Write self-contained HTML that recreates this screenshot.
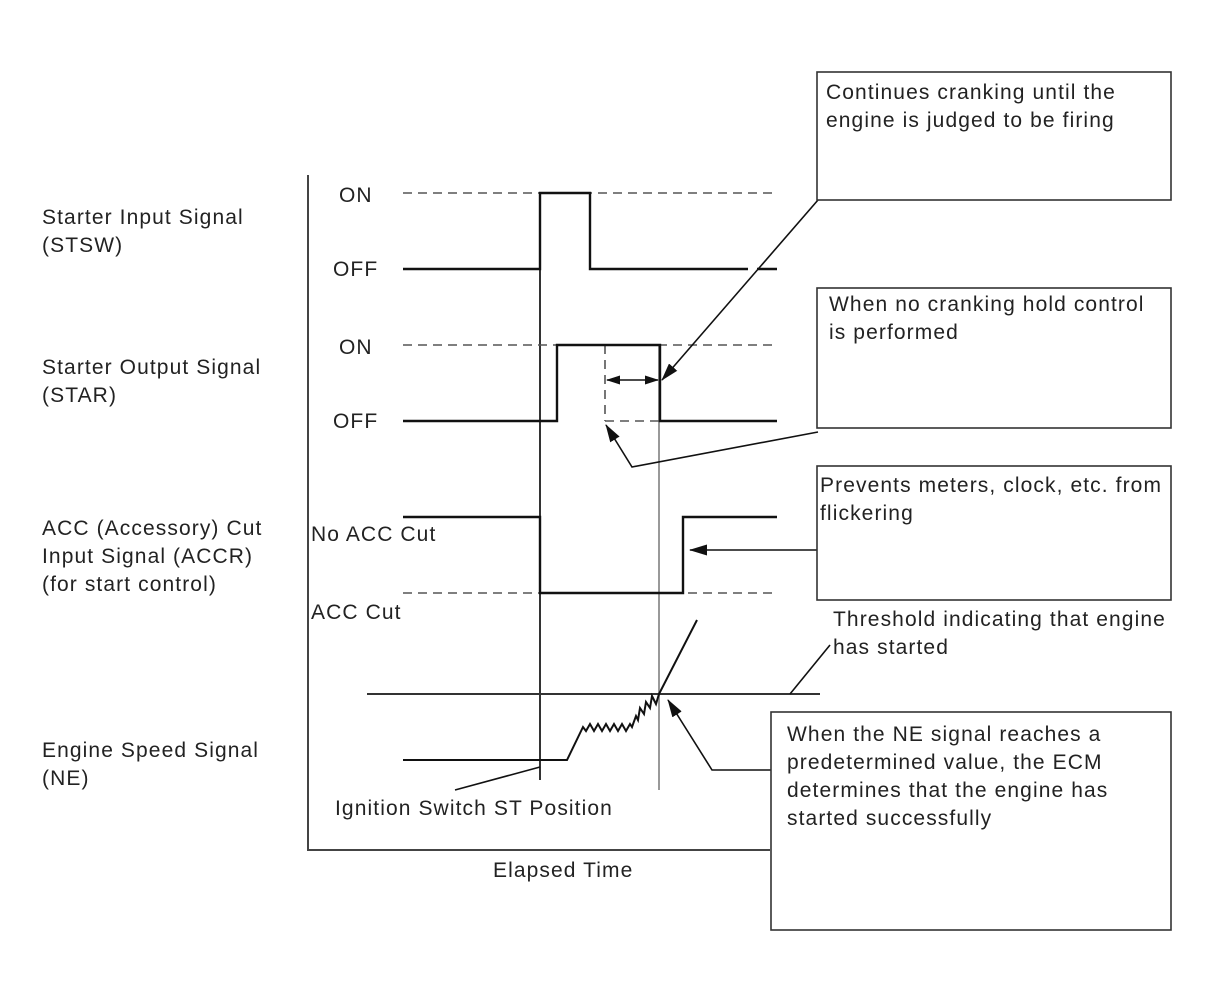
<!DOCTYPE html>
<html><head><style>
body{margin:0;background:#fff;}
svg text{font-family:"Liberation Sans",sans-serif;font-size:21px;letter-spacing:1.1px;fill:#222;}
</style></head><body>
<svg width="1210" height="986" xmlns="http://www.w3.org/2000/svg">
<defs>
<marker id="a" markerWidth="14" markerHeight="9" refX="13" refY="4.5" orient="auto" markerUnits="userSpaceOnUse"><path d="M0,0L14,4.5L0,9z" fill="#111"/></marker>
<marker id="b" markerWidth="18" markerHeight="11" refX="17" refY="5.5" orient="auto" markerUnits="userSpaceOnUse"><path d="M0,0L18,5.5L0,11z" fill="#111"/></marker>
</defs>
<rect width="1210" height="986" fill="#fff"/>
<g stroke="#444" stroke-width="2" fill="none">
<polyline points="308,175 308,850 770,850"/>
</g>
<line x1="540" y1="193" x2="540" y2="780" stroke="#333" stroke-width="2"/>
<line x1="659" y1="345" x2="659" y2="790" stroke="#999" stroke-width="2"/>
<g stroke="#555" stroke-width="1.6" stroke-dasharray="9,6" fill="none">
<line x1="403" y1="193" x2="777" y2="193"/>
<line x1="403" y1="345" x2="777" y2="345"/>
<line x1="403" y1="593" x2="777" y2="593"/>
<line x1="605" y1="345" x2="605" y2="421"/>
<line x1="605" y1="421" x2="660" y2="421"/>
</g>
<g stroke="#111" stroke-width="2.4" fill="none">
<polyline points="403,269 540,269 540,193 590,193 590,269 748,269"/>
<line x1="757" y1="269" x2="777" y2="269"/>
<polyline points="403,421 557,421 557,345 660,345 660,421 777,421"/>
<polyline points="403,517 540,517 540,593 683,593 683,517 777,517"/>
</g>
<line x1="367" y1="694" x2="820" y2="694" stroke="#333" stroke-width="2"/>
<polyline points="403,760 567,760 583,727 586,731 590,724 594,731 598,724 602,731 606,724 610,731 614,724 618,731 622,724 626,731 630,724 632,727 636,716 638,720 640,708 644,714 646,702 650,708 652,696 656,704 659,694 697,620" stroke="#111" stroke-width="2" fill="none"/>
<g stroke="#111" stroke-width="1.6" fill="none">
<line x1="632" y1="380" x2="607" y2="380" marker-end="url(#a)"/>
<line x1="632" y1="380" x2="658" y2="380" marker-end="url(#a)"/>
<line x1="818" y1="200" x2="662" y2="380" marker-end="url(#b)"/>
<polyline points="818,432 632,467 606,425" marker-end="url(#b)"/>
<line x1="818" y1="550" x2="690" y2="550" marker-end="url(#b)"/>
<polyline points="772,770 712,770 668,700" marker-end="url(#b)"/>
<line x1="830" y1="645" x2="790" y2="694"/>
<line x1="455" y1="790" x2="540" y2="767"/>
</g>
<g stroke="#333" stroke-width="1.6" fill="#fff">
<rect x="817" y="72" width="354" height="128"/>
<rect x="817" y="288" width="354" height="140"/>
<rect x="817" y="466" width="354" height="134"/>
<rect x="771" y="712" width="400" height="218"/>
</g>
<text x="826" y="99">Continues cranking until the</text>
<text x="826" y="127">engine is judged to be firing</text>
<text x="829" y="311">When no cranking hold control</text>
<text x="829" y="339">is performed</text>
<text x="820" y="492">Prevents meters, clock, etc. from</text>
<text x="820" y="520">flickering</text>
<text x="833" y="626">Threshold indicating that engine</text>
<text x="833" y="654">has started</text>
<text x="787" y="741">When the NE signal reaches a</text>
<text x="787" y="769">predetermined value, the ECM</text>
<text x="787" y="797">determines that the engine has</text>
<text x="787" y="825">started successfully</text>
<text x="42" y="224">Starter Input Signal</text>
<text x="42" y="252">(STSW)</text>
<text x="42" y="374">Starter Output Signal</text>
<text x="42" y="402">(STAR)</text>
<text x="42" y="535">ACC (Accessory) Cut</text>
<text x="42" y="563">Input Signal (ACCR)</text>
<text x="42" y="591">(for start control)</text>
<text x="42" y="757">Engine Speed Signal</text>
<text x="42" y="785">(NE)</text>
<text x="339" y="202">ON</text>
<text x="333" y="276">OFF</text>
<text x="339" y="354">ON</text>
<text x="333" y="428">OFF</text>
<text x="311" y="541">No ACC Cut</text>
<text x="311" y="619">ACC Cut</text>
<text x="335" y="815">Ignition Switch ST Position</text>
<text x="493" y="877">Elapsed Time</text>
</svg>
</body></html>
